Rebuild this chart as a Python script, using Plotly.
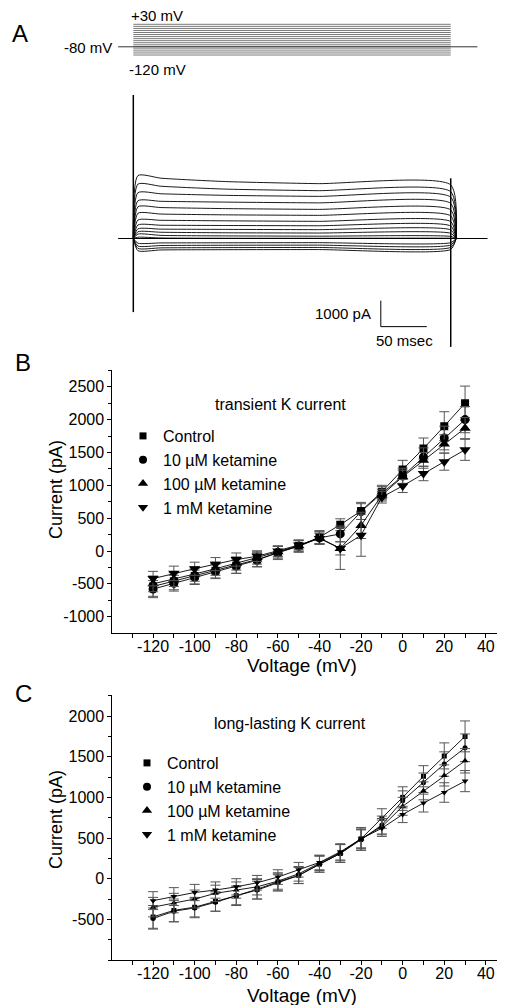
import plotly.graph_objects as go

# page body has an 8 px margin: the figure is sized to fill the rest of the window
OFF = 8
W, H = 505 - OFF, 1005 - OFF
FONT = "Liberation Sans, Arial, Helvetica, sans-serif"

# ---------------- Panel A data ----------------
step_mV = [30, 20, 10, 0, -10, -20, -30, -40, -50, -60, -70, -80, -90, -100, -110, -120]
holding_mV = -80
pulse_ms = [0, 345]
holding_ms = [-16.5, 374]

trace_t = [0, 5, 30, 100, 200, 345, 351]
I_peak = [2420, 2090, 1760, 1450, 1220, 970, 710, 520, 370, 260, 170, 50, -180, -290, -380, -470]
I_30 = [2320, 2010, 1720, 1430, 1190, 940, 700, 510, 360, 240, 120, 20, -170, -270, -360, -440]
I_100 = [2190, 1900, 1660, 1400, 1150, 910, 680, 500, 350, 220, 100, 10, -165, -260, -350, -430]
I_200 = [2110, 1840, 1620, 1370, 1120, 890, 660, 490, 340, 210, 90, 10, -160, -255, -345, -425]
I_end = [2060, 1800, 1590, 1350, 1100, 870, 650, 480, 330, 200, 80, 10, -160, -250, -340, -420]
onset_spike = [-2830, 5520]
offset_spike = [-4170, 2315]
baseline_ms = [-16.5, 385]

scale_t0, scale_i0 = 269, -3390
scale_ms, scale_pA = 50, 1000

# ---------------- Panel B / C data ----------------
voltages = [-120, -110, -100, -90, -80, -70, -60, -50, -40, -30, -20, -10, 0, 10, 20, 30]
series_names = ["Control", "10 µM ketamine", "100 µM ketamine", "1 mM ketamine"]
symbols = ["square", "circle", "triangle-up", "triangle-down"]

B_control = [-540, -460, -380, -300, -220, -130, -30, 80, 210, 400, 610, 900, 1240, 1560, 1900, 2250]
B_10uM = [-580, -490, -400, -310, -230, -140, -20, 70, 200, 260, 600, 880, 1140, 1430, 1720, 2000]
B_100uM = [-500, -430, -350, -270, -190, -100, -10, 80, 200, 40, 390, 850, 1130, 1380, 1630, 1870]
B_1mM = [-420, -340, -270, -200, -130, -80, 0, 90, 190, 40, 240, 820, 990, 1180, 1360, 1540]
B_err_control = [150, 130, 120, 110, 120, 110, 100, 90, 100, 90, 130, 100, 140, 160, 220, 260]
B_err_10uM = [130, 120, 110, 110, 110, 100, 90, 90, 100, 120, 120, 100, 120, 140, 180, 200]
B_err_100uM = [120, 110, 110, 100, 100, 100, 80, 80, 90, 320, 200, 90, 100, 120, 140, 160]
B_err_1mM = [110, 110, 100, 100, 100, 80, 80, 70, 80, 100, 320, 90, 100, 110, 130, 160]

C_control = [-470, -390, -350, -280, -210, -130, -40, 40, 180, 310, 490, 740, 1000, 1260, 1510, 1750]
C_10uM = [-490, -400, -360, -290, -210, -140, -50, 40, 180, 310, 480, 660, 960, 1180, 1410, 1610]
C_100uM = [-350, -300, -250, -180, -140, -100, -30, 60, 190, 320, 490, 640, 890, 1080, 1270, 1450]
C_1mM = [-270, -220, -170, -140, -100, -50, 20, 110, 200, 330, 490, 620, 790, 930, 1060, 1200]
C_err_control = [140, 140, 120, 120, 120, 120, 110, 100, 100, 110, 140, 120, 130, 130, 160, 190]
C_err_10uM = [130, 130, 120, 110, 110, 110, 100, 100, 100, 110, 130, 110, 120, 120, 150, 170]
C_err_100uM = [120, 120, 110, 100, 100, 100, 100, 90, 90, 100, 120, 100, 110, 110, 130, 150]
C_err_1mM = [110, 110, 100, 100, 100, 90, 90, 90, 90, 100, 110, 100, 100, 110, 120, 130]

x_ticks = [-120, -100, -80, -60, -40, -20, 0, 20, 40]
B_yticks = [-1000, -500, 0, 500, 1000, 1500, 2000, 2500]
C_yticks = [-500, 0, 500, 1000, 1500, 2000]


def px(x):
    return (x - OFF) / W


def py(y):
    return 1 - (y - OFF) / H


def labels(vals):
    return [str(v) for v in vals]


fig = go.Figure()

# ---- Panel A: voltage protocol ----
for v in step_mV:
    fig.add_trace(go.Scatter(x=pulse_ms, y=[v, v], mode="lines", xaxis="x", yaxis="y2",
                             line=dict(color="#7a7a7a", width=1), showlegend=False, hoverinfo="skip"))
fig.add_trace(go.Scatter(x=holding_ms, y=[holding_mV, holding_mV], mode="lines", xaxis="x", yaxis="y2",
                         line=dict(color="#333", width=1), showlegend=False, hoverinfo="skip"))

# ---- Panel A: current traces ----
fig.add_trace(go.Scatter(x=baseline_ms, y=[0, 0], mode="lines", xaxis="x", yaxis="y",
                         line=dict(color="black", width=1.2), showlegend=False, hoverinfo="skip"))
for k in range(len(step_mV)):
    vals = [0, I_peak[k], I_30[k], I_100[k], I_200[k], I_end[k], 0]
    fig.add_trace(go.Scatter(x=trace_t, y=vals, mode="lines", xaxis="x", yaxis="y",
                             line=dict(color="black", width=0.9, shape="spline", smoothing=0.6),
                             showlegend=False, hoverinfo="skip"))
fig.add_trace(go.Scatter(x=[pulse_ms[0], pulse_ms[0]], y=onset_spike, mode="lines", xaxis="x", yaxis="y",
                         line=dict(color="black", width=1.5), showlegend=False, hoverinfo="skip"))
fig.add_trace(go.Scatter(x=[pulse_ms[1], pulse_ms[1]], y=offset_spike, mode="lines", xaxis="x", yaxis="y",
                         line=dict(color="black", width=1.5), showlegend=False, hoverinfo="skip"))
# scale bar
fig.add_trace(go.Scatter(x=[scale_t0, scale_t0, scale_t0 + scale_ms],
                         y=[scale_i0 + scale_pA, scale_i0, scale_i0], mode="lines", xaxis="x", yaxis="y",
                         line=dict(color="black", width=1), showlegend=False, hoverinfo="skip"))

# ---- Panels B and C ----
B_vals = [B_control, B_10uM, B_100uM, B_1mM]
B_errs = [B_err_control, B_err_10uM, B_err_100uM, B_err_1mM]
C_vals = [C_control, C_10uM, C_100uM, C_1mM]
C_errs = [C_err_control, C_err_10uM, C_err_100uM, C_err_1mM]
B_sizes = [8, 9, 10, 10]
C_sizes = [5, 5, 6, 6]
leg_sizes = [7, 8, 9, 9]

for i in range(4):
    fig.add_trace(go.Scatter(x=voltages, y=B_vals[i], mode="lines+markers", xaxis="x3", yaxis="y3",
                             line=dict(color="black", width=0.9),
                             marker=dict(symbol=symbols[i], size=B_sizes[i], color="black"),
                             error_y=dict(type="data", array=B_errs[i], color="#555", thickness=1, width=5),
                             showlegend=False, hoverinfo="skip"))
    fig.add_trace(go.Scatter(x=voltages, y=C_vals[i], mode="lines+markers", xaxis="x4", yaxis="y4",
                             line=dict(color="black", width=0.9),
                             marker=dict(symbol=symbols[i], size=C_sizes[i], color="black"),
                             error_y=dict(type="data", array=C_errs[i], color="#555", thickness=1, width=5),
                             showlegend=False, hoverinfo="skip"))
# legend entries
for i in range(4):
    fig.add_trace(go.Scatter(x=[None], y=[None], mode="markers", xaxis="x3", yaxis="y3", name=series_names[i],
                             marker=dict(symbol=symbols[i], size=leg_sizes[i], color="black"),
                             showlegend=True, legend="legend"))
    fig.add_trace(go.Scatter(x=[None], y=[None], mode="markers", xaxis="x4", yaxis="y4", name=series_names[i],
                             marker=dict(symbol=symbols[i], size=leg_sizes[i], color="black"),
                             showlegend=True, legend="legend2"))

hidden = dict(visible=False, showgrid=False, zeroline=False)
iv_x = dict(range=[-139.6, 49.2], domain=[px(112.3), 1.0], showline=True, linecolor="black", linewidth=1,
            tickvals=x_ticks, ticktext=labels(x_ticks), ticks="outside", ticklen=4, tickcolor="black",
            ticklabelstandoff=-5,
            minor=dict(dtick=10, tick0=0, ticks="outside", ticklen=4, tickcolor="black"),
            showgrid=False, zeroline=False, tickfont=dict(size=16, color="black", family=FONT))
iv_y = dict(showline=True, linecolor="black", linewidth=1, ticks="outside", ticklen=4, tickcolor="black",
            minor=dict(dtick=250, tick0=0, ticks="outside", ticklen=3, tickcolor="black"),
            showgrid=False, zeroline=False, tickfont=dict(size=16, color="black", family=FONT))

fig.update_layout(
    width=W, height=H, margin=dict(l=0, r=0, t=0, b=0),
    paper_bgcolor="white", plot_bgcolor="white",
    font=dict(family=FONT, color="black"),
    xaxis=dict(hidden, range=[-136.2, 404.0], domain=[0, 1]),
    yaxis=dict(hidden, range=[-4673, 6096], domain=[py(360), py(80)], anchor="x"),
    yaxis2=dict(hidden, range=[-193.3, 99.9], domain=[py(70), py(10)], anchor="x"),
    xaxis3=dict(iv_x, anchor="y3"),
    yaxis3=dict(iv_y, range=[-1248, 2755], domain=[py(633), py(370)], tickvals=B_yticks,
                ticktext=labels(B_yticks), anchor="x3"),
    xaxis4=dict(iv_x, anchor="y4"),
    yaxis4=dict(iv_y, range=[-1000, 2259], domain=[py(960), py(695)], tickvals=C_yticks,
                ticktext=labels(C_yticks), anchor="x4"),
    legend=dict(x=px(123), y=py(419), xanchor="left", yanchor="top", bgcolor="rgba(0,0,0,0)",
                font=dict(size=16, family=FONT), tracegroupgap=0, itemwidth=30),
    legend2=dict(x=px(127), y=py(746), xanchor="left", yanchor="top", bgcolor="rgba(0,0,0,0)",
                 font=dict(size=16, family=FONT), tracegroupgap=0, itemwidth=30),
)

ann = []
def add_text(text, x, y, size, xanchor="center", yanchor="middle", angle=0):
    ann.append(dict(text=text, x=px(x), y=py(y), xref="paper", yref="paper", showarrow=False,
                    xanchor=xanchor, yanchor=yanchor, textangle=angle,
                    font=dict(size=size, family=FONT, color="black")))

add_text("A", 20, 34, 24)
add_text("B", 23, 363, 24)
add_text("C", 23, 693, 24)
add_text("+30 mV", 129, 16, 15, xanchor="left")
add_text("-80 mV", 114, 47, 15, xanchor="right")
add_text("-120 mV", 127, 70, 15, xanchor="left")
add_text("1000 pA", 373, 313, 15, xanchor="right")
add_text("50 msec", 404, 340, 15)
add_text("transient K current", 280, 405, 16)
add_text("long-lasting K current", 290, 723, 16)
add_text("Current (pA)", 56, 490, 18, angle=-90)
add_text("Current (pA)", 56, 820, 18, angle=-90)
add_text("Voltage (mV)", 302, 665, 19)
add_text("Voltage (mV)", 302, 995, 19)
fig.update_layout(annotations=ann)

fig.write_html("out.html")
